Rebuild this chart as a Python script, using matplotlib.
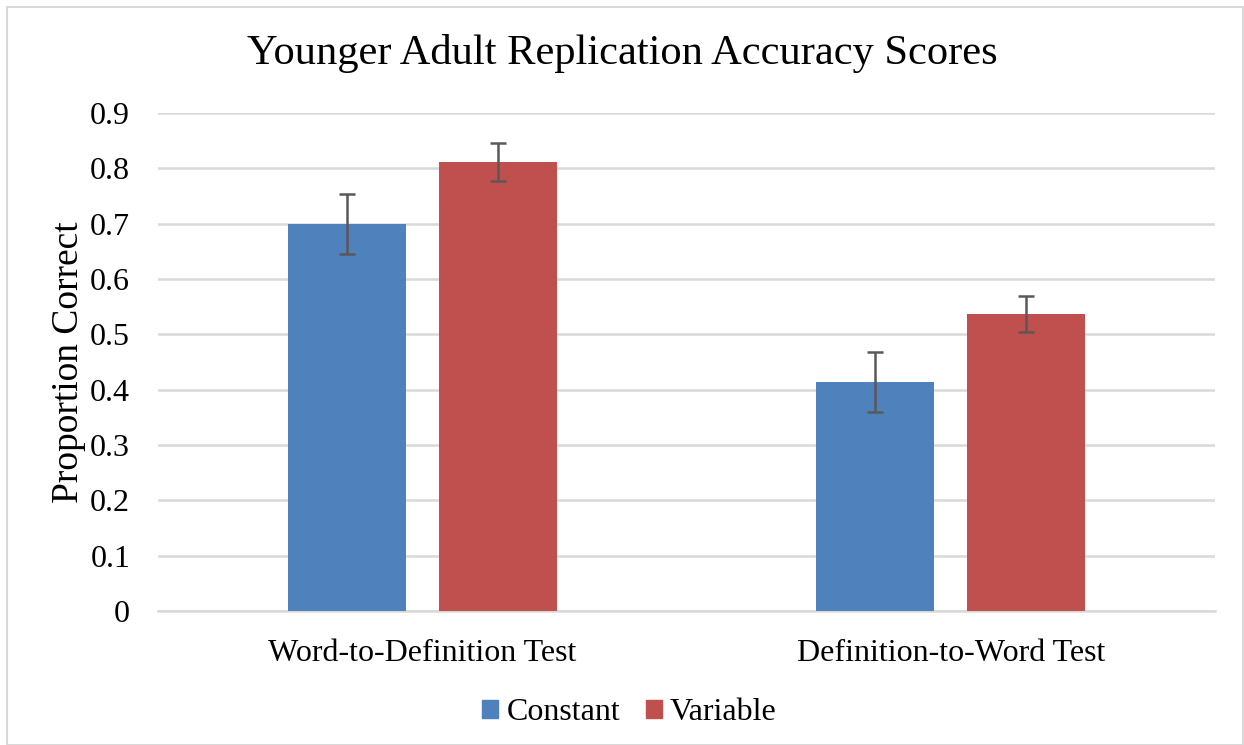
import matplotlib
matplotlib.use("Agg")
import matplotlib.pyplot as plt
import numpy as np
from matplotlib.patches import Rectangle, Patch

plt.rcParams["font.family"] = ["Liberation Serif", "DejaVu Serif"]

categories = ["Word-to-Definition Test", "Definition-to-Word Test"]
series_names = ["Constant", "Variable"]
constant_vals = [0.699, 0.414]
variable_vals = [0.811, 0.537]
constant_err = [0.054, 0.054]
variable_err = [0.034, 0.033]
colors = ["#4F81BD", "#C0504D"]
yticks = [0, 0.1, 0.2, 0.3, 0.4, 0.5, 0.6, 0.7, 0.8, 0.9]

fig = plt.figure(figsize=(12.44, 7.45), dpi=100)
ax = fig.add_axes([0.127, 0.1799, 0.8497, 0.6684])

x = np.arange(len(categories))
width = 0.223
offset = 0.143
for vals, errs, color, name, sign in zip(
    [constant_vals, variable_vals], [constant_err, variable_err], colors, series_names, [-1, 1]
):
    ax.bar(x + sign * offset, vals, width, color=color, label=name, zorder=3)
    ax.errorbar(x + sign * offset, vals, yerr=errs, fmt="none", ecolor="#595959",
                elinewidth=1.8, capsize=6, capthick=1.8, zorder=4)

ax.set_xlim(-0.5, 1.5)
ax.set_ylim(0, 0.9)
ax.set_yticks(yticks)
ax.set_yticklabels([f"{t:g}" for t in yticks], fontsize=23)
ax.set_xticks(x)
ax.set_xticklabels(categories, fontsize=23)
ax.tick_params(axis="y", length=0, pad=20)
ax.tick_params(axis="x", length=0, pad=20)
ax.grid(axis="y", color="#D9D9D9", linewidth=1.8, zorder=0)
for side in ["top", "right", "left"]:
    ax.spines[side].set_visible(False)
ax.spines["bottom"].set_color("#D9D9D9")
ax.spines["bottom"].set_linewidth(1.8)

ax.set_ylabel("Proportion Correct", fontsize=27, labelpad=3)
fig.text(0.5, 0.928, "Younger Adult Replication Accuracy Scores", fontsize=30.6,
         ha="center", va="center")

handles = [Patch(color=c) for c in colors]
fig.legend(handles, series_names, loc="center", bbox_to_anchor=(0.506, 0.043),
           ncol=2, frameon=False, fontsize=23, handlelength=0.5, handleheight=0.5,
           handletextpad=0.25, columnspacing=0.8)

fig.patches.append(Rectangle((7 / 1244, 0), 1236 / 1244, 738 / 745, transform=fig.transFigure,
                             fill=False, edgecolor="#D9D9D9", linewidth=1.5))

fig.savefig("out.png", dpi=100)
